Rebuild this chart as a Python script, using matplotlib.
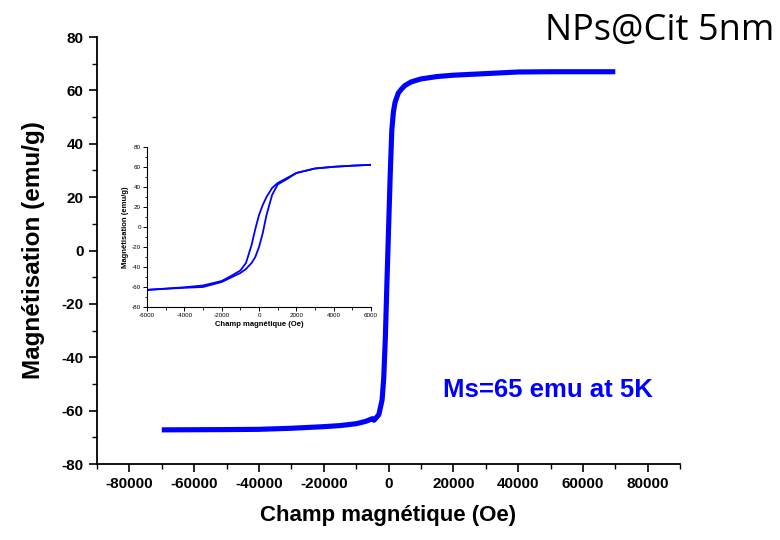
import matplotlib
matplotlib.use("Agg")
import matplotlib.pyplot as plt
from matplotlib.ticker import MultipleLocator

# main loop (Oe, emu/g)
h_main = [-70000, -50000, -40000, -30000, -20000, -15000, -10000, -7000, -5000,
          -4500, -3000, -2000, -1500, -1000, -500, 0, 500, 1000, 1500, 2000,
          3000, 4000, 5000, 7000, 10000, 15000, 20000, 30000, 40000, 50000, 70000]
m_main = [-67.2, -67.1, -67.0, -66.6, -66.0, -65.6, -64.9, -64.0, -63.0,
          -63.6, -61.5, -56.0, -48.0, -33.0, -12.0, 8.0, 28.0, 45.0, 52.0, 55.5,
          59.0, 60.5, 61.8, 63.2, 64.3, 65.2, 65.7, 66.3, 66.9, 67.0, 67.0]

# zoomed hysteresis branches
h_up = [-6000, -5000, -4000, -3000, -2000, -1500, -1000, -700, -400, -200, 0,
        200, 400, 700, 1000, 1500, 2000, 3000, 4000, 5000, 6000]
m_up = [-63.0, -61.8, -60.8, -60.0, -55.0, -50.5, -46.0, -42.0, -36.0, -30.0, -20.0,
        -6.0, 12.0, 32.0, 42.5, 48.0, 54.0, 58.5, 60.2, 61.3, 62.2]
h_down = [6000, 5000, 4000, 3000, 2000, 1500, 1000, 700, 400, 200, 0,
          -200, -400, -700, -1000, -1500, -2000, -3000, -4000, -5000, -6000]
m_down = [62.2, 61.3, 60.2, 58.5, 54.0, 49.0, 44.0, 39.0, 30.0, 22.0, 12.0,
          -2.0, -18.0, -36.0, -43.5, -49.0, -54.0, -58.5, -60.3, -61.6, -62.8]

blue = "#0000ff"
plt.rcParams['font.family'] = ['Liberation Sans', 'DejaVu Sans']
plt.rcParams['axes.unicode_minus'] = False

fig = plt.figure(figsize=(7.8, 5.4), dpi=100)
ax = fig.add_axes([0.1244, 0.1407, 0.7475, 0.7907])
ax.plot(h_main, m_main, color=blue, lw=3.7, solid_capstyle='butt')
ax.set_xlim(-90000, 90000)
ax.set_ylim(-80, 80)
ax.xaxis.set_minor_locator(MultipleLocator(10000))
ax.yaxis.set_major_locator(MultipleLocator(20))
ax.yaxis.set_minor_locator(MultipleLocator(10))
ax.set_xticks(range(-80000, 80001, 20000))
for s in ['top', 'right']:
    ax.spines[s].set_visible(False)
for s in ['left', 'bottom']:
    ax.spines[s].set_linewidth(1.3)
ax.tick_params(which='major', direction='out', length=6, width=1.2, labelsize=11)
ax.tick_params(which='minor', direction='out', length=3.5, width=1.0)
for lab in ax.get_xticklabels() + ax.get_yticklabels():
    lab.set_fontweight('bold')
ax.set_xlabel('Champ magnétique (Oe)', fontsize=16, fontweight='bold', labelpad=10)
ax.set_ylabel('Magnétisation (emu/g)', fontsize=17.5, fontweight='bold', labelpad=12)

ax.text(0.593, 0.157, 'Ms=65 emu at 5K', transform=ax.transAxes, color=blue,
        fontsize=18.5, fontweight='bold')
fig.text(0.699, 0.925, 'NPs@Cit 5nm', fontsize=26, family=['Open Sans', 'DejaVu Sans'])

# inset
ins = fig.add_axes([0.1885, 0.4315, 0.2872, 0.2963])
ins.plot(h_up, m_up, color=blue, lw=1.3)
ins.plot(h_down, m_down, color=blue, lw=1.3)
ins.set_xlim(-6000, 6000)
ins.set_ylim(-80, 80)
ins.xaxis.set_major_locator(MultipleLocator(2000))
ins.xaxis.set_minor_locator(MultipleLocator(1000))
ins.yaxis.set_major_locator(MultipleLocator(20))
ins.yaxis.set_minor_locator(MultipleLocator(10))
for s in ['top', 'right']:
    ins.spines[s].set_visible(False)
for s in ['left', 'bottom']:
    ins.spines[s].set_linewidth(0.8)
ins.tick_params(which='major', direction='out', length=3, width=0.7, labelsize=4.5, pad=1.5)
ins.tick_params(which='minor', direction='out', length=1.8, width=0.6)
ins.set_xlabel('Champ magnétique (Oe)', fontsize=5.5, fontweight='bold', labelpad=2)
ins.set_ylabel('Magnétisation (emu/g)', fontsize=5.5, fontweight='bold', labelpad=2)

fig.savefig('out.png', dpi=100)
